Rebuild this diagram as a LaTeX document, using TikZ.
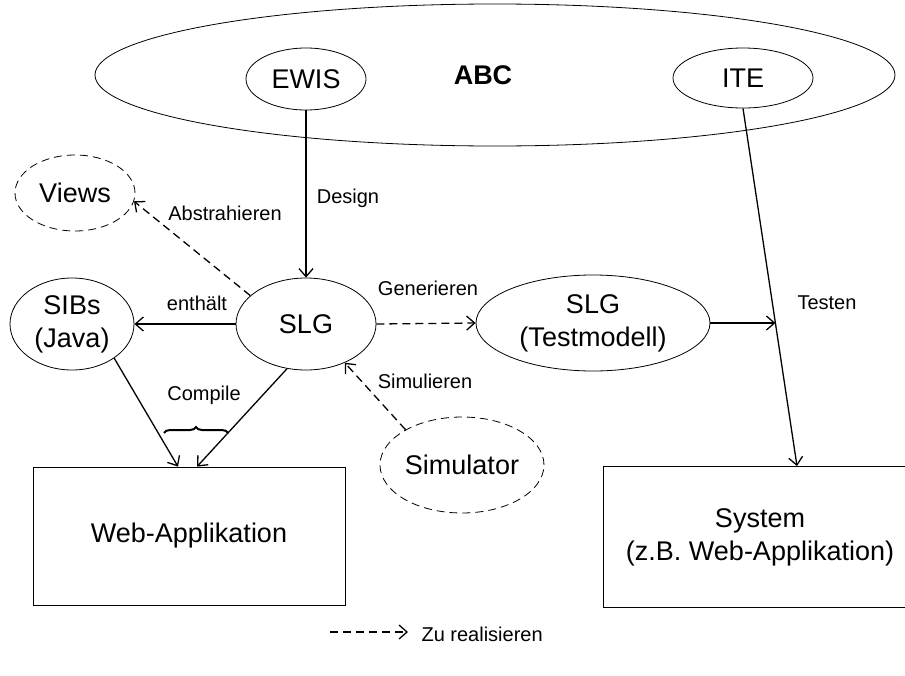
\documentclass[tikz,border=0pt]{standalone}
\usepackage{fontspec}
\setmainfont{Liberation Sans}
\usetikzlibrary{shapes.geometric,arrows.meta,decorations.pathreplacing,positioning}

\begin{document}
\begin{tikzpicture}[x=1pt,y=-1pt,
  ell/.style={draw,ellipse,line width=.8pt,inner sep=0pt,align=center,font=\fontsize{27}{33}\selectfont},
  box/.style={draw,rectangle,line width=.8pt,inner sep=0pt,align=center,font=\fontsize{27}{33}\selectfont},
  lbl/.style={font=\fontsize{20}{24}\selectfont},
  todo/.style={dash pattern=on 8pt off 5pt},
  >={Straight Barb[length=8pt,width=14pt]}]
\useasboundingbox (0,0) rectangle (905,675);
% Gruppen
\node[ell,minimum width=800,minimum height=142] (abc) at (495,75) {};
\node[font=\fontsize{27}{30}\selectfont\bfseries] (abct) at (483,75) {ABC};
\node[ell,minimum width=120,minimum height=62] (ewis) at (306,79) {EWIS};
\node[ell,minimum width=140,minimum height=60] (ite) at (743,78) {ITE};
% Modelle
\node[ell,todo,minimum width=120,minimum height=76] (views) at (75,193) {Views};
\node[ell,minimum width=124,minimum height=92] (sibs) at (72,324) {SIBs\\(Java)};
\node[ell,minimum width=140,minimum height=92] (slg) at (306,324) {SLG};
\node[ell,minimum width=234,minimum height=96] (tm) at (593,323) {SLG\\(Testmodell)};
\node[ell,todo,minimum width=164,minimum height=96] (sim) at (462,465) {Simulator};
% Systeme
\node[box,minimum width=312,minimum height=138] (web) at (189,536) {Web-Applikation};
\node[box,minimum width=314,minimum height=141] (sys) at (760,537) {System\\(z.B. Web-Applikation)};
% Kanten
\draw[->,line width=1.3pt] (ewis.south) -- (slg.north);
\draw[->,line width=1.3pt,todo] (slg.153) -- (views.-8);
\draw[->,line width=1.3pt] (slg.west) -- (sibs.east);
\draw[->,line width=1.3pt,todo] (slg.east) -- (tm.west);
\draw[->,line width=1.3pt,todo] (sim.148) -- (slg.-45);
\draw[->,line width=1.3pt] (sibs.-39) -- ([xshift=-11pt]web.north);
\draw[->,line width=1.3pt] (slg.-113) -- ([xshift=8pt]web.north);
\draw[->,line width=1.3pt] (ite.south) -- coordinate[pos=.6] (hit) ([xshift=37pt]sys.north);
\draw[->,line width=1.3pt] (tm.east) -- (tm.east -| hit);
% Beschriftungen
\node[lbl] (design) at (348,198) {Design};
\node[lbl] (abstr) at (225,213) {Abstrahieren};
\node[lbl] (enth) at (197,303) {enthält};
\node[lbl] (gen) at (428,288) {Generieren};
\node[lbl] (simu) at (425,381) {Simulieren};
\node[lbl] (testen) at (827,303) {Testen};
% Compile
\coordinate (brl) at (164,433);
\coordinate (brr) at (228,433);
\draw[line width=2pt,decorate,decoration={brace,amplitude=6pt}] (brl) -- (brr);
\node[lbl] (compile) at (204,395) {Compile};
% Legende
\coordinate (legl) at (330,632);
\coordinate (legr) at (408,632);
\draw[->,line width=1.3pt,todo] (legl) -- (legr);
\node[lbl,anchor=west] (leg) at (418,634) {Zu realisieren};
\end{tikzpicture}
\end{document}
